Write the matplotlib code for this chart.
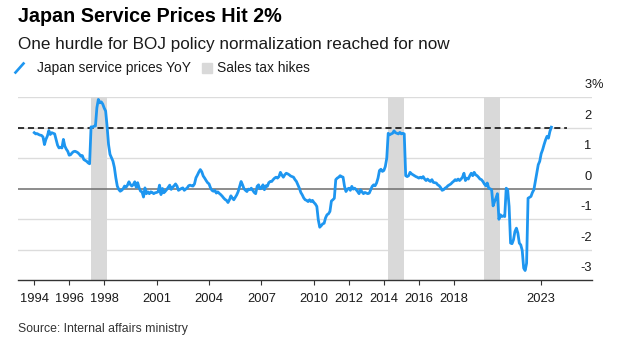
import numpy as np
import pandas as pd
import matplotlib
matplotlib.use("Agg")
import matplotlib.pyplot as plt
import matplotlib.transforms as mtransforms
from matplotlib.lines import Line2D
from matplotlib.patches import Rectangle

plt.rcParams['font.family'] = ['Liberation Sans', 'DejaVu Sans']

# --- Data: Japan service prices, % YoY, monthly from Jan 1994 ---
start_month = "1994-01"
service_yoy = [
    1.84, 1.80, 1.81, 1.78, 1.76, 1.75, 1.70, 1.45, 1.62, 1.73, 1.91, 1.78,         # 1994
    1.84, 1.82, 1.80, 1.62, 1.43, 1.34, 1.36, 1.34, 1.62, 1.40, 1.30, 1.23,         # 1995
    1.10, 1.12, 1.18, 1.22, 1.23, 1.21, 1.18, 1.13, 1.07, 1.09, 0.96, 0.93,         # 1996
    0.90, 0.85, 0.82, 2.03, 2.02, 2.05, 2.06, 2.66, 2.93, 2.82, 2.85, 2.78,         # 1997
    2.65, 2.55, 2.05, 1.45, 1.13, 1.02, 0.91, 0.70, 0.36, 0.09, -0.02, -0.08,       # 1998
    -0.05, 0.00, 0.09, 0.05, 0.12, 0.23, 0.14, 0.09, 0.14, 0.23, 0.05, 0.20,        # 1999
    0.03, -0.08, -0.10, -0.27, 0.03, -0.16, -0.10, -0.16, -0.10, -0.12, -0.16, -0.13,  # 2000
    -0.12, -0.10, 0.12, -0.19, 0.01, -0.13, -0.08, -0.02, 0.05, 0.12, -0.02, 0.05,  # 2001
    0.10, 0.16, 0.09, -0.05, -0.02, 0.01, 0.03, -0.05, -0.01, 0.03, 0.10, 0.12,     # 2002
    0.10, 0.09, 0.16, 0.36, 0.45, 0.55, 0.63, 0.56, 0.42, 0.35, 0.27, 0.20,         # 2003
    0.16, 0.03, -0.05, -0.08, -0.05, -0.14, -0.10, -0.15, -0.19, -0.24, -0.30, -0.35,  # 2004
    -0.38, -0.45, -0.36, -0.23, -0.31, -0.36, -0.28, -0.20, -0.09, 0.08, 0.24, 0.13,   # 2005
    0.00, -0.05, -0.09, -0.01, -0.03, 0.02, -0.05, -0.12, -0.16, 0.08, 0.13, 0.00,  # 2006
    0.02, 0.13, -0.03, 0.10, 0.08, 0.20, 0.24, 0.24, 0.30, 0.35, 0.38, 0.35,        # 2007
    0.40, 0.54, 0.45, 0.38, 0.46, 0.51, 0.49, 0.46, 0.42, 0.40, 0.38, 0.30,         # 2008
    0.24, 0.13, 0.02, -0.12, -0.20, -0.30, -0.36, -0.38, -0.42, -0.36, -0.42, -0.38,   # 2009
    -0.45, -0.50, -0.58, -1.02, -1.26, -1.21, -1.15, -1.13, -0.95, -0.85, -0.82, -0.74,  # 2010
    -0.40, -0.36, -0.31, 0.30, 0.35, 0.38, 0.43, 0.40, 0.38, 0.08, -0.09, -0.01,    # 2011
    0.02, -0.05, 0.08, -0.01, 0.02, -0.03, -0.09, -0.16, -0.03, -0.10, -0.16, -0.12,   # 2012
    -0.14, -0.16, -0.14, -0.03, 0.08, 0.13, 0.10, 0.19, 0.35, 0.60, 0.64, 0.57,     # 2013
    0.60, 0.73, 1.00, 1.82, 1.77, 1.80, 1.82, 1.90, 1.84, 1.82, 1.80, 1.85,         # 2014
    1.80, 1.82, 1.80, 0.43, 0.40, 0.43, 0.54, 0.49, 0.46, 0.43, 0.40, 0.38,         # 2015
    0.35, 0.38, 0.35, 0.40, 0.32, 0.27, 0.32, 0.27, 0.24, 0.30, 0.21, 0.20,         # 2016
    0.19, 0.13, 0.10, 0.04, -0.05, -0.03, 0.02, 0.05, 0.10, 0.13, 0.16, 0.21,       # 2017
    0.25, 0.30, 0.27, 0.32, 0.27, 0.32, 0.38, 0.51, 0.27, 0.35, 0.32, 0.43,         # 2018
    0.51, 0.43, 0.54, 0.46, 0.43, 0.38, 0.32, 0.30, 0.24, 0.16, 0.10, 0.19,         # 2019
    0.02, 0.00, -0.03, -0.56, -0.42, -0.30, -0.16, -1.00, -0.85, -0.91, -0.89, -0.91,  # 2020
    0.02, -0.03, -0.58, -1.78, -1.80, -1.67, -1.40, -1.29, -1.45, -1.78, -1.84, -2.02,  # 2021
    -2.60, -2.68, -2.44, -0.31, -0.28, -0.25, -0.12, -0.03, 0.24, 0.51, 0.79, 0.90,  # 2022
    1.15, 1.28, 1.45, 1.60, 1.72, 1.66, 1.88, 2.02,                                 # 2023
]

tax_hike_start = ["1997-04", "2014-04", "2019-10"]
tax_hike_end = ["1998-03", "2015-03", "2020-09"]

year_ticks = [1994, 1996, 1998, 2001, 2004, 2007, 2010, 2012, 2014, 2016, 2018, 2023]
y_ticks = [-3, -2, -1, 0, 1, 2, 3]
target = 2

title = "Japan Service Prices Hit 2%"
subtitle = "One hurdle for BOJ policy normalization reached for now"
legend_line = "Japan service prices YoY"
legend_band = "Sales tax hikes"
source = "Source: Internal affairs ministry"

BLUE = "#1e96f0"
BAND = "#d9d9d9"


def dec_year(d):
    d = pd.to_datetime(d)
    return d.year + (d.month - 1) / 12


months = pd.date_range(start_month, periods=len(service_yoy), freq="MS")
t = np.asarray(months.year + (months.month - 1) / 12, dtype=float)

# --- Figure ---
W, H = 638, 350
fig = plt.figure(figsize=(W / 100, H / 100), dpi=100)
ax = fig.add_axes([18 / W, 1 - 280.3 / H, (591.5 - 18) / W, (280.3 - 97.3) / H])
ax.set_xlim(1993.07, 2025.88)
ax.set_ylim(-3, 3)

for s, e in zip(tax_hike_start, tax_hike_end):
    ax.axvspan(dec_year(s), dec_year(e), color=BAND, lw=0, zorder=1)

for v in y_ticks:
    if v == 0:
        ax.axhline(v, color="#6e6e6e", lw=1.1, zorder=2)
    elif v > -3:
        ax.axhline(v, color="#dcdcdc", lw=1.0, zorder=0.5)

ax.hlines(target, 1993.07, 2024.5, colors="black", linestyles=(0, (4, 2.5)), lw=1.1, zorder=2.5)
ax.plot(t, service_yoy, color=BLUE, lw=2.0, zorder=3, solid_joinstyle="round")

for side in ["top", "left", "right"]:
    ax.spines[side].set_visible(False)
ax.spines["bottom"].set_color("#333333")
ax.spines["bottom"].set_linewidth(1.0)

ax.set_xticks(year_ticks)
ax.set_xticklabels([str(y) for y in year_ticks])
ax.tick_params(axis="x", direction="out", length=3.3, width=0.8, color="#333333",
               labelsize=9.3, labelcolor="#1a1a1a", pad=5.5)
ax.set_yticks([])

# right-side value labels sitting above their gridlines
lab_tr = mtransforms.offset_copy(
    mtransforms.blended_transform_factory(ax.transAxes, ax.transData),
    fig=fig, y=12, units="dots")
for v in y_ticks:
    ax.text(1.0, v, str(v), transform=lab_tr, ha="right", va="center",
            fontsize=9.3, color="#1a1a1a", clip_on=False)
    if v == y_ticks[-1]:
        ax.text(1.0, v, "%", transform=lab_tr, ha="left", va="center",
                fontsize=9.3, color="#1a1a1a", clip_on=False)

# --- Header texts and legend ---
fig.text(18 / W, 1 - 17 / H, title, fontsize=14.2, fontweight="bold", va="center", color="black")
fig.text(18 / W, 1 - 44 / H, subtitle, fontsize=12.3, va="center", color="#1a1a1a")

fig.add_artist(Line2D([15.5 / W, 23.5 / W], [1 - 72.5 / H, 1 - 63.5 / H], color=BLUE, lw=1.9,
                      transform=fig.transFigure))
fig.text(36.7 / W, 1 - 68 / H, legend_line, fontsize=9.9, va="center", color="#1a1a1a")
fig.add_artist(Rectangle((201.7 / W, 1 - 73 / H), 10 / W, 10 / H, color=BAND,
                         transform=fig.transFigure))
fig.text(216.7 / W, 1 - 68 / H, legend_band, fontsize=9.9, va="center", color="#1a1a1a")

fig.text(18 / W, 1 - 329 / H, source, fontsize=8.8, va="center", color="#333333")

fig.savefig("out.png", dpi=100)
